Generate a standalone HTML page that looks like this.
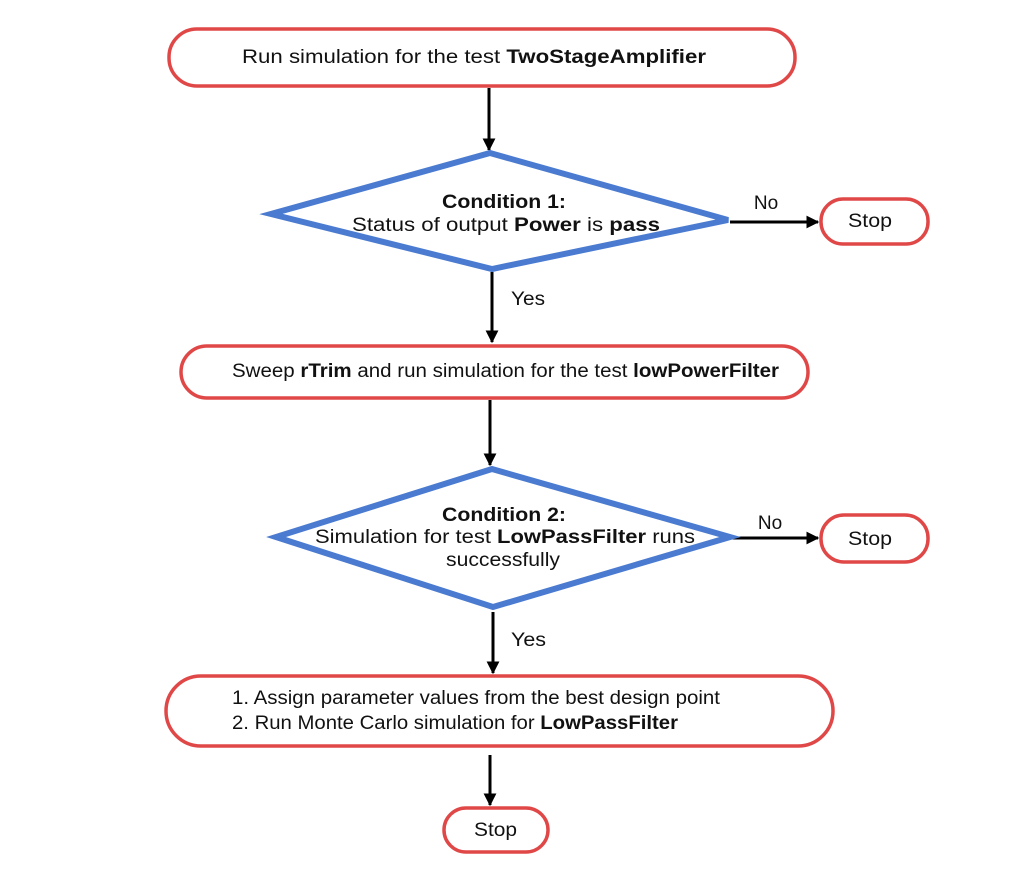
<!DOCTYPE html>
<html><head><style>body{margin:0;background:#fff}</style></head><body>
<svg width="1013" height="886" viewBox="0 0 1013 886" xmlns="http://www.w3.org/2000/svg" font-family="'Liberation Sans',sans-serif" font-size="19" fill="#111">
<defs>
<marker id="b" viewBox="0 0 10 10" markerWidth="13" markerHeight="13" refX="9" refY="5" orient="auto" markerUnits="userSpaceOnUse"><path d="M0,0 L10,5 L0,10 z" fill="#000"/></marker></defs>
<g stroke="#000" stroke-width="3" marker-end="url(#b)">
<line x1="489" y1="88" x2="489" y2="150"/>
<line x1="730" y1="222" x2="818" y2="222"/>
<line x1="492" y1="272" x2="492" y2="342"/>
<line x1="490" y1="400" x2="490" y2="465"/>
<line x1="732" y1="538" x2="818" y2="538"/>
<line x1="493" y1="612" x2="493" y2="673"/>
<line x1="490" y1="755" x2="490" y2="805"/>
</g>
<g fill="#fff" stroke="#e04848" stroke-width="3.5">
<rect x="169" y="29" width="626" height="57" rx="28"/>
<rect x="181" y="346" width="627" height="52" rx="26"/>
<rect x="166" y="676" width="667" height="70" rx="35"/>
<rect x="821" y="199" width="107" height="45" rx="22"/>
<rect x="821" y="515" width="107" height="47" rx="23"/>
<rect x="444" y="808" width="104" height="44" rx="22"/>
</g>
<g fill="#fff" stroke="#4a7bd0" stroke-width="6" stroke-linejoin="miter">
<polygon points="490,153 728,220 492,269 271,214"/>
<polygon points="492,469 730,537 493,607 276,537"/>
</g>
<text x="242" y="63" textLength="464" lengthAdjust="spacingAndGlyphs">Run simulation for the test <tspan font-weight="bold">TwoStageAmplifier</tspan></text>
<text x="442" y="208" font-weight="bold" textLength="124" lengthAdjust="spacingAndGlyphs">Condition 1:</text>
<text x="352" y="231" textLength="308" lengthAdjust="spacingAndGlyphs">Status of output <tspan font-weight="bold">Power</tspan> is <tspan font-weight="bold">pass</tspan></text>
<text x="766" y="209" text-anchor="middle">No</text>
<text x="848" y="227" textLength="44" lengthAdjust="spacingAndGlyphs">Stop</text>
<text x="511" y="305" textLength="34" lengthAdjust="spacingAndGlyphs">Yes</text>
<text x="232" y="377" textLength="547" lengthAdjust="spacingAndGlyphs">Sweep <tspan font-weight="bold">rTrim</tspan> and run simulation for the test <tspan font-weight="bold">lowPowerFilter</tspan></text>
<text x="442" y="521" font-weight="bold" textLength="124" lengthAdjust="spacingAndGlyphs">Condition 2:</text>
<text x="315" y="543" textLength="380" lengthAdjust="spacingAndGlyphs">Simulation for test <tspan font-weight="bold">LowPassFilter</tspan> runs</text>
<text x="446" y="566" textLength="114" lengthAdjust="spacingAndGlyphs">successfully</text>
<text x="770" y="529" text-anchor="middle">No</text>
<text x="848" y="545" textLength="44" lengthAdjust="spacingAndGlyphs">Stop</text>
<text x="511" y="646" textLength="35" lengthAdjust="spacingAndGlyphs">Yes</text>
<text x="232" y="704" textLength="488" lengthAdjust="spacingAndGlyphs">1. Assign parameter values from the best design point</text>
<text x="232" y="729" textLength="446" lengthAdjust="spacingAndGlyphs">2. Run Monte Carlo simulation for <tspan font-weight="bold">LowPassFilter</tspan></text>
<text x="474" y="836" textLength="43" lengthAdjust="spacingAndGlyphs">Stop</text>
</svg>
</body></html>
